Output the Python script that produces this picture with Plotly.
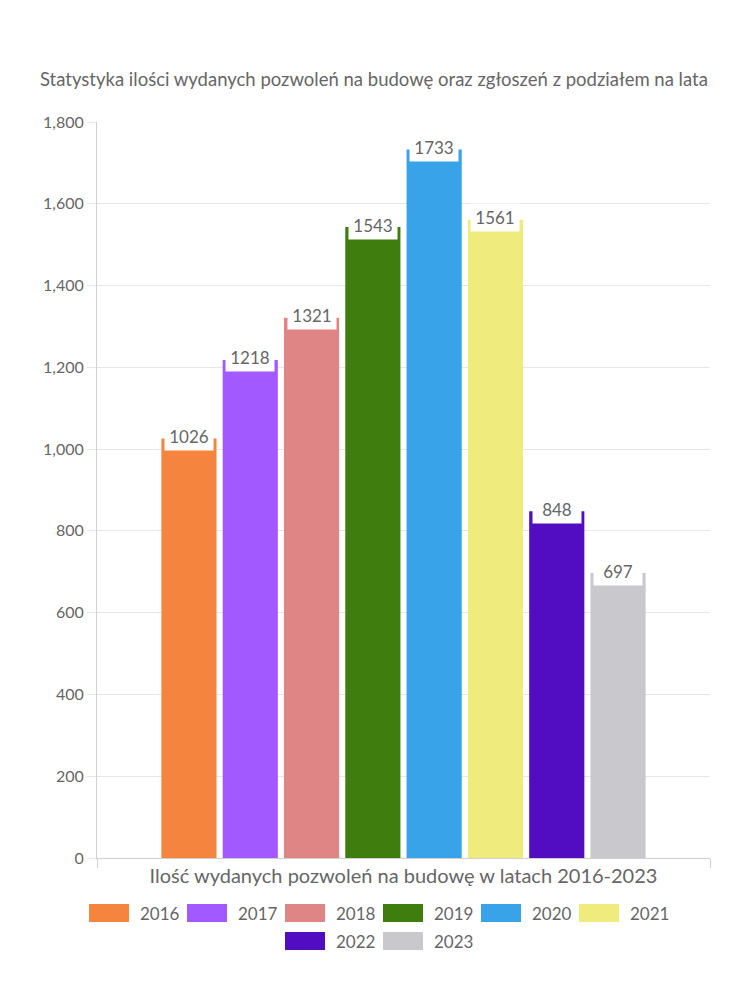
import plotly.graph_objects as go

# ---- data ----
years = ["2016", "2017", "2018", "2019", "2020", "2021", "2022", "2023"]
values = [1026, 1218, 1321, 1543, 1733, 1561, 848, 697]
colors = ["#F5843F", "#A259FF", "#E08585", "#3F7E0E", "#38A3E9", "#F0EB7D", "#520DC2", "#C9C9CD"]
category = ["Ilość wydanych pozwoleń na budowę w latach 2016-2023"]
title_text = "Statystyka ilości wydanych pozwoleń na budowę oraz zgłoszeń z podziałem na lata"
y_ticks = [0, 200, 400, 600, 800, 1000, 1200, 1400, 1600, 1800]

# ---- layout constants ----
W, H = 750, 1000
ML, MR, MT, MB = 97, 40, 122, 142
BARGAP, GROUPGAP = 0.2, 0.1
FONT = "Lato"
TXT = "#666666"
GRID = "#E6E6E6"
AXIS = "#D0D0D0"

fig = go.Figure()
for yr, v, c in zip(years, values, colors):
    fig.add_trace(go.Bar(x=category, y=[v], name=yr, marker_color=c,
                         marker_line_width=0, showlegend=False))

# value labels on top of bars
n = len(years)
slot = (1 - BARGAP) / n
for i, v in enumerate(values):
    fig.add_annotation(x=-(1 - BARGAP) / 2 + (i + 0.5) * slot, y=v, xref="x", yref="y",
                       text=str(v), showarrow=False, bgcolor="white", borderpad=3,
                       width=42, yanchor="middle", yshift=2,
                       font=dict(family=FONT, size=17, color=TXT))

# custom legend
pw = W - ML - MR
ph = H - MT - MB
def xp(px):
    return (px - ML) / pw
def yp(py):
    return (H - MB - py) / ph

per_row = 6
pitch = 98
box_w, box_h = 40, 18
center = 378
rows_y = [913, 941]
for r in range(0, n, per_row):
    items = list(range(r, min(r + per_row, n)))
    row_w = len(items) * pitch - 10
    x0 = center - row_w / 2
    cy = rows_y[r // per_row]
    for k, i in enumerate(items):
        bx = x0 + k * pitch
        fig.add_shape(type="rect", xref="paper", yref="paper",
                      x0=xp(bx), x1=xp(bx + box_w), y0=yp(cy + box_h / 2), y1=yp(cy - box_h / 2),
                      fillcolor=colors[i], line=dict(width=0))
        fig.add_annotation(x=xp(bx + box_w + 9), y=yp(cy), xref="paper", yref="paper",
                           text=years[i], showarrow=False, xanchor="left", yanchor="middle",
                           font=dict(family=FONT, size=17, color=TXT))

fig.update_layout(
    width=W, height=H,
    margin=dict(l=ML, r=MR, t=MT, b=MB),
    paper_bgcolor="white", plot_bgcolor="white",
    barmode="group", bargap=BARGAP, bargroupgap=GROUPGAP,
    font=dict(family=FONT, color=TXT),
    title=dict(text=title_text, xref="container", yref="container",
               x=40 / W, y=1 - 80 / H, xanchor="left", yanchor="middle",
               font=dict(family=FONT, size=18.5, color=TXT)),
    xaxis=dict(type="category", tickson="boundaries", ticks="outside", ticklen=9,
               tickcolor=AXIS, showgrid=True, gridcolor=GRID, showline=True,
               linecolor=AXIS, tickfont=dict(family=FONT, size=20, color=TXT)),
    yaxis=dict(range=[0, 1800], tickvals=y_ticks, tickformat=",", ticks="outside",
               ticklen=9, tickcolor=GRID, showgrid=True, gridcolor=GRID,
               showline=True, linecolor=AXIS, zeroline=False,
               tickfont=dict(family=FONT, size=16, color=TXT)),
)

fig.write_html("out.html")
